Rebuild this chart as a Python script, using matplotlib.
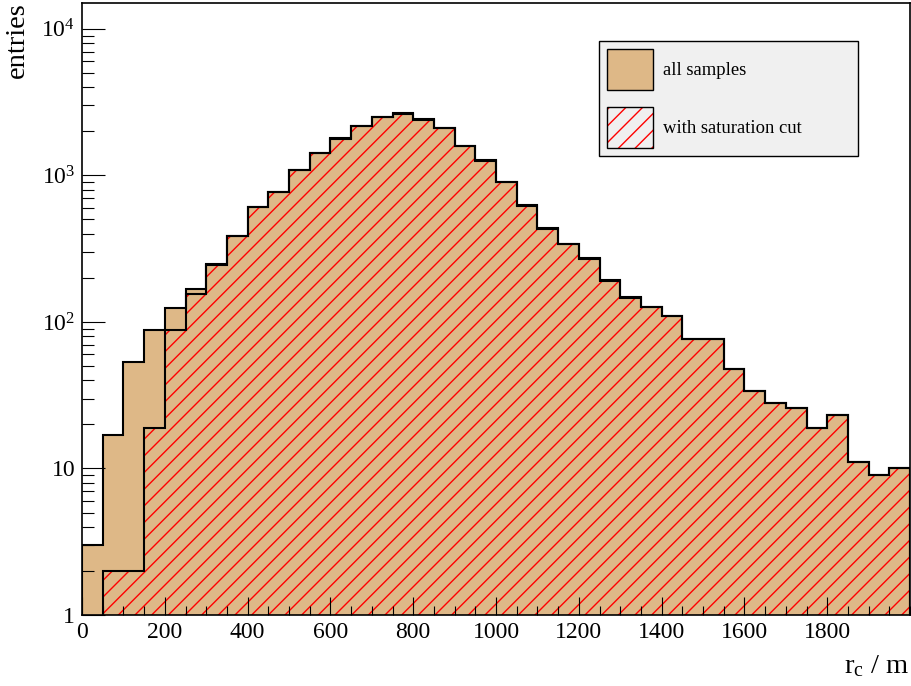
"""
Curvature radius distribution, with and without the saturation cut.
"""

import matplotlib
matplotlib.use('Agg')  # no display
import matplotlib.pyplot as plt
import numpy as np
from matplotlib.patches import Patch
from matplotlib.ticker import LogLocator, MultipleLocator, NullFormatter

# bin edges of r_c in m (50 m bins)
bin_edges = np.arange(0, 2001, 50)

# entries per bin, all samples
all_samples = [
    3, 17, 53, 88, 125, 169, 248, 387, 610, 772,
    1090, 1430, 1790, 2180, 2510, 2660, 2410, 2110, 1590, 1270,
    903, 626, 434, 340, 271, 192, 147, 127, 110, 77,
    76, 48, 34, 28, 26, 19, 23, 11, 9, 10,
]

# entries per bin after the saturation cut
with_cut = [
    0, 2, 2, 19, 88, 156, 246, 384, 605, 765,
    1080, 1420, 1775, 2160, 2490, 2640, 2390, 2095, 1580, 1262,
    898, 622, 432, 338, 270, 191, 146, 126, 109, 77,
    76, 48, 34, 28, 26, 19, 23, 11, 9, 10,
]

x_ticks = [0, 200, 400, 600, 800, 1000, 1200, 1400, 1600, 1800]
y_ticks = [1, 10, 100, 1000, 10000]
y_tick_labels = ['1', '10', '$10^{2}$', '$10^{3}$', '$10^{4}$']

FILL_COLOR = '#deb887'
HATCH_COLOR = '#ff0000'
HATCH = '//'

plt.rcParams['font.family'] = ['Liberation Serif', 'DejaVu Serif']
plt.rcParams['mathtext.fontset'] = 'custom'
plt.rcParams['mathtext.rm'] = 'Liberation Serif'
plt.rcParams['mathtext.it'] = 'Liberation Serif:italic'
plt.rcParams['hatch.linewidth'] = 1.0

fig = plt.figure(figsize=(9.11, 6.86), dpi=100)
ax = fig.add_axes([82 / 911, 71 / 686, 828 / 911, 612 / 686])
ax.set_yscale('log')

# filled histogram, then the hatched one on top, then both outlines
ax.stairs(all_samples, bin_edges, baseline=0.5, fill=True,
          facecolor=FILL_COLOR, edgecolor='none', lw=0)
ax.stairs(with_cut, bin_edges, baseline=0.5, fill=True,
          facecolor='none', edgecolor=HATCH_COLOR, hatch=HATCH, lw=0)
ax.stairs(all_samples, bin_edges, baseline=0.5, color='black', lw=1.5)
ax.stairs(with_cut, bin_edges, baseline=0.5, color='black', lw=1.5)

ax.set_xlim(0, 2000)
ax.set_ylim(1, 1.5e4)

ax.set_xticks(x_ticks)
ax.xaxis.set_minor_locator(MultipleLocator(50))
ax.set_yticks(y_ticks, labels=y_tick_labels)
ax.yaxis.set_minor_locator(LogLocator(base=10, subs=range(2, 10)))
ax.yaxis.set_minor_formatter(NullFormatter())

ax.tick_params(axis='both', which='both', direction='in', width=0.8,
               top=False, right=False, labelsize=17)
ax.tick_params(axis='x', which='major', length=13, pad=5)
ax.tick_params(axis='x', which='minor', length=6.5)
ax.tick_params(axis='y', which='major', length=16.5, pad=5)
ax.tick_params(axis='y', which='minor', length=8.5)

for spine in ax.spines.values():
    spine.set_linewidth(1.2)

# axis titles sit in the corners
fig.text(909 / 911, 1 - 673 / 686, r'r$_{\mathrm{c}}$ / m', fontsize=20.5,
         ha='right', va='baseline')
fig.text(17.5 / 911, 1 - 2 / 686, 'entries', fontsize=20.5, rotation=90,
         ha='center', va='top')

h_all = Patch(facecolor=FILL_COLOR, edgecolor='black', lw=1.0)
h_cut = (Patch(facecolor='none', edgecolor=HATCH_COLOR, hatch=HATCH, lw=0),
         Patch(facecolor='none', edgecolor='black', lw=1.0))
leg = ax.legend([h_all, h_cut], ['all samples', 'with saturation cut'],
                loc='upper left', bbox_to_anchor=(0.6244, 0.75, 0.3128, 0.1879),
                mode='expand', borderaxespad=0, fontsize=13.4,
                handlelength=2.47, handleheight=3.0, handletextpad=0.54,
                labelspacing=0.91, borderpad=0.43, fancybox=False,
                framealpha=1, facecolor='#f0f0f0', edgecolor='black')
leg.get_frame().set_linewidth(1.0)

fig.savefig('out.png', dpi=100)
